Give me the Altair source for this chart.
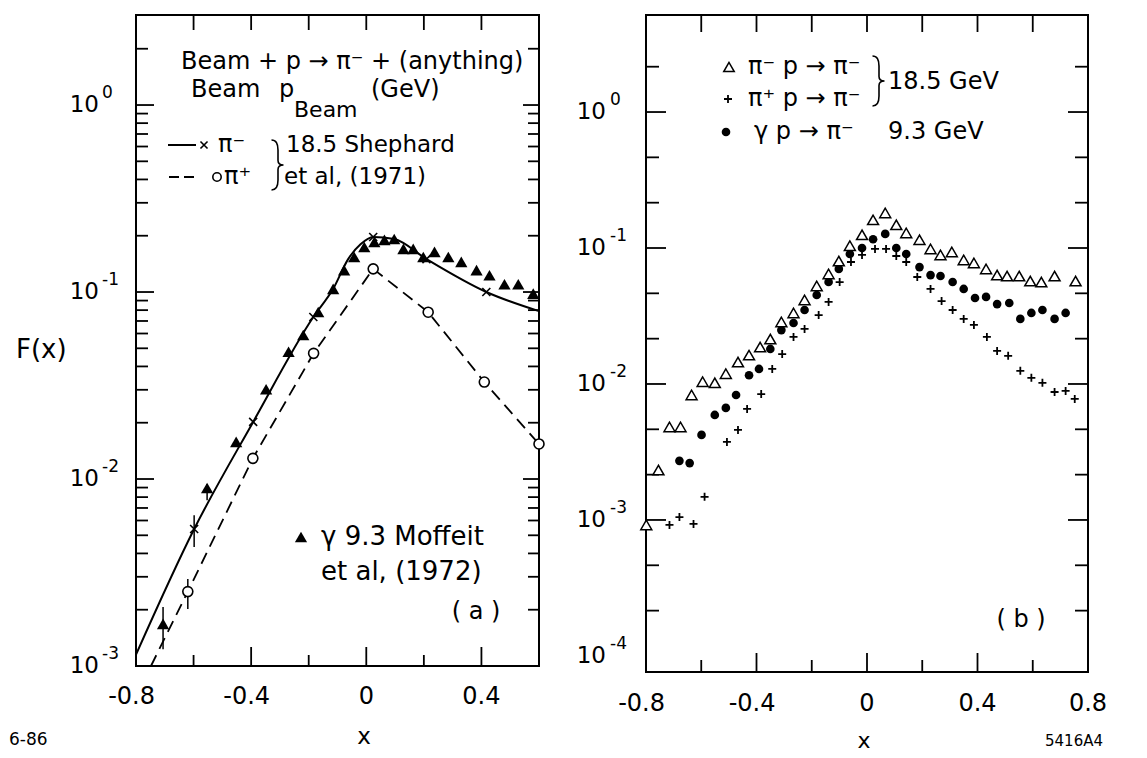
import altair as alt
import pandas as pd

FONT = "DejaVu Sans"
K = "black"

# ---------------- Panel (a) data ----------------
a_sol_x = [-0.80, -0.598, -0.393, -0.184, -0.115, -0.063, -0.02, 0.024, 0.097, 0.209, 0.417, 0.60]
a_sol_F = [1.15e-3, 5.4e-3, 0.0202, 0.0735, 0.104, 0.150, 0.180, 0.197, 0.192, 0.150, 0.100, 0.079]
a_dash_x = [-0.748, -0.62, -0.394, -0.183, 0.024, 0.215, 0.41, 0.60]
a_dash_F = [1.0e-3, 2.5e-3, 0.0129, 0.047, 0.133, 0.078, 0.033, 0.0154]
a_pim_x = [-0.598, -0.393, -0.184, 0.024, 0.209, 0.417]
a_pim_F = [5.4e-3, 0.0202, 0.0735, 0.197, 0.150, 0.100]
a_pip_x = [-0.62, -0.394, -0.183, 0.024, 0.215, 0.41, 0.60]
a_pip_F = [2.5e-3, 0.0129, 0.047, 0.133, 0.078, 0.033, 0.0154]
a_gam_x = [-0.706, -0.553, -0.452, -0.348, -0.270, -0.219, -0.167, -0.115, -0.077, -0.042,
           -0.007, 0.028, 0.063, 0.097, 0.129, 0.163, 0.198, 0.237, 0.285, 0.330,
           0.383, 0.428, 0.480, 0.528, 0.580]
a_gam_F = [1.68e-3, 8.95e-3, 0.0158, 0.0302, 0.0479, 0.0589, 0.0782, 0.104, 0.131, 0.154,
           0.174, 0.185, 0.190, 0.192, 0.170, 0.170, 0.154, 0.164, 0.154, 0.145,
           0.131, 0.123, 0.110, 0.110, 0.098]
a_err_x = [-0.706, -0.553, -0.598, -0.62]
a_err_lo = [1.23e-3, 7.7e-3, 4.33e-3, 2.02e-3]
a_err_hi = [2.07e-3, 9.4e-3, 6.4e-3, 2.92e-3]

# ---------------- Panel (b) data ----------------
b_tri_x = [-0.799, -0.755, -0.715, -0.675, -0.635, -0.595, -0.551, -0.511, -0.467, -0.427,
           -0.387, -0.350, -0.310, -0.266, -0.226, -0.182, -0.139, -0.102, -0.062, -0.018,
           0.022, 0.066, 0.106, 0.142, 0.190, 0.230, 0.266, 0.307, 0.350, 0.387,
           0.431, 0.471, 0.507, 0.551, 0.591, 0.631, 0.679, 0.755]
b_tri_F = [9.2e-4, 2.33e-3, 4.83e-3, 4.83e-3, 8.30e-3, 0.0104, 0.0102, 0.0119, 0.0145, 0.0163,
           0.0187, 0.0214, 0.0286, 0.0333, 0.0415, 0.0526, 0.0644, 0.0802, 0.104, 0.125,
           0.161, 0.181, 0.148, 0.129, 0.115, 0.0984, 0.0889, 0.0935, 0.0817, 0.0776,
           0.0702, 0.0632, 0.0622, 0.0622, 0.0571, 0.0562, 0.0622, 0.0571]
b_dot_x = [-0.679, -0.642, -0.599, -0.551, -0.511, -0.474, -0.427, -0.391, -0.350, -0.310,
           -0.266, -0.226, -0.182, -0.139, -0.102, -0.062, -0.018, 0.022, 0.066, 0.106,
           0.142, 0.190, 0.230, 0.266, 0.310, 0.350, 0.391, 0.431, 0.471, 0.515,
           0.555, 0.595, 0.635, 0.679, 0.719]
b_dot_F = [2.72e-3, 2.62e-3, 4.22e-3, 5.92e-3, 6.67e-3, 8.30e-3, 0.0116, 0.0129, 0.0181, 0.0249,
           0.0281, 0.0350, 0.0451, 0.0562, 0.0702, 0.0904, 0.100, 0.116, 0.127, 0.100,
           0.0904, 0.0724, 0.0632, 0.0622, 0.0562, 0.0500, 0.0429, 0.0437, 0.0387, 0.0394,
           0.0301, 0.0333, 0.0350, 0.0301, 0.0333]
b_plus_x = [-0.715, -0.679, -0.628, -0.588, -0.507, -0.467, -0.434, -0.383, -0.343, -0.307,
            -0.266, -0.226, -0.175, -0.139, -0.099, -0.058, -0.018, 0.029, 0.069, 0.106,
            0.142, 0.182, 0.230, 0.270, 0.310, 0.350, 0.387, 0.434, 0.471, 0.511,
            0.555, 0.595, 0.635, 0.679, 0.719, 0.752]
b_plus_F = [9.2e-4, 1.05e-3, 9.35e-4, 1.48e-3, 3.75e-3, 4.59e-3, 6.55e-3, 8.43e-3, 0.0129, 0.0166,
            0.0222, 0.0254, 0.0321, 0.0401, 0.0562, 0.0789, 0.0889, 0.0984, 0.0984, 0.0873,
            0.0789, 0.0612, 0.0500, 0.0407, 0.0350, 0.0301, 0.0272, 0.0222, 0.0175, 0.0161,
            0.0125, 0.0111, 0.0102, 8.73e-3, 8.89e-3, 7.76e-3]

# ---------------- tick values and labels ----------------
xlab_neg_v = [-0.8, -0.4]
xlab_neg_t = ["-0.8", "-0.4"]
a_xlab_pos_v = [0.0, 0.4]
a_xlab_pos_t = ["0", "0.4"]
b_xlab_pos_v = [0.0, 0.4, 0.8]
b_xlab_pos_t = ["0", "0.4", "0.8"]
a_ydec = [1e-3, 1e-2, 1e-1, 1.0]
a_yexp = ["-3", "-2", "-1", "0"]
b_ydec = [1e-4, 1e-3, 1e-2, 1e-1, 1.0]
b_yexp = ["-4", "-3", "-2", "-1", "0"]

x_major = [-0.4, 0.0, 0.4]
a_x_minor = [-0.6, -0.2, 0.2]
b_x_minor = [-0.6, -0.2, 0.2, 0.6]
a_x_top = [-0.6, -0.4, -0.2, 0.0, 0.2, 0.4]
b_x_top = [-0.6, -0.4, -0.2, 0.0, 0.2, 0.4, 0.6]
a_y_major = [0.01, 0.1, 1.0]
a_y_minor = [0.002, 0.003, 0.004, 0.005, 0.006, 0.007, 0.008, 0.009,
             0.02, 0.03, 0.04, 0.05, 0.06, 0.07, 0.08, 0.09,
             0.2, 0.3, 0.4, 0.5, 0.6, 0.7, 0.8, 0.9, 2.0]
b_y_major = [0.001, 0.01, 0.1, 1.0]
b_y_minor = [2.154e-4, 4.642e-4, 2.154e-3, 4.642e-3, 0.02154, 0.04642, 0.2154, 0.4642, 2.154]

# ---------------- scales / sizes ----------------
WA, HA = 403, 651
WB, HB = 442, 657
xa = alt.Scale(domain=[-0.8, 0.6], nice=False, zero=False)
ya = alt.Scale(type="log", domain=[1e-3, 3.03], nice=False)
xb = alt.Scale(domain=[-0.8, 0.8], nice=False, zero=False)
yb = alt.Scale(type="log", domain=[7.62e-5, 5.17], nice=False)

CROSS = "M-1,-1L1,1M-1,1L1,-1"
PLUS = "M-1,0L1,0M0,-1L0,1"
BRACE = "M-0.22,-1 Q0.04,-1 0.04,-0.6 L0.04,-0.18 Q0.04,0 0.26,0 Q0.04,0 0.04,0.18 L0.04,0.6 Q0.04,1 -0.22,1"
ONE = alt.Data(values=[{}])


def pts(x, F, xs, ys, **mk):
    return alt.Chart(pd.DataFrame({"x": x, "F": F})).mark_point(opacity=1, **mk).encode(
        x=alt.X("x:Q", scale=xs, axis=None), y=alt.Y("F:Q", scale=ys, axis=None))


def line(x, F, xs, ys, **mk):
    return alt.Chart(pd.DataFrame({"x": x, "F": F})).mark_line(color=K, **mk).encode(
        x=alt.X("x:Q", scale=xs, axis=None), y=alt.Y("F:Q", scale=ys, axis=None))


def xt(vals, xs, y0, y1):
    return alt.Chart(pd.DataFrame({"v": vals})).mark_rule(color=K, strokeWidth=1.8).encode(
        x=alt.X("v:Q", scale=xs, axis=None), y=alt.value(y0), y2=alt.value(y1))


def yt(vals, ys, x0, x1):
    return alt.Chart(pd.DataFrame({"v": vals})).mark_rule(color=K, strokeWidth=1.8).encode(
        y=alt.Y("v:Q", scale=ys, axis=None), x=alt.value(x0), x2=alt.value(x1))


def xlab(vals, labs, xs, y, align, dx):
    return alt.Chart(pd.DataFrame({"v": vals, "t": labs})).mark_text(
        align=align, baseline="middle", dx=dx, font=FONT, fontSize=24, color=K).encode(
        x=alt.X("v:Q", scale=xs, axis=None), y=alt.value(y), text="t:N")


def ylab(vals, exps, ys, x10, xexp):
    d = pd.DataFrame({"v": vals, "e": exps})
    base = alt.Chart(d).mark_text(text="10", align="right", baseline="middle",
                                  font=FONT, fontSize=23, color=K).encode(
        y=alt.Y("v:Q", scale=ys, axis=None), x=alt.value(x10))
    sup = alt.Chart(d).mark_text(align="left", baseline="middle", dy=-12,
                                 font=FONT, fontSize=17, color=K).encode(
        y=alt.Y("v:Q", scale=ys, axis=None), x=alt.value(xexp), text="e:N")
    return [base, sup]


def T(text, x, y, size=24, align="left"):
    return alt.Chart(ONE).mark_text(text=text, align=align, baseline="middle",
                                    font=FONT, fontSize=size, color=K).encode(
        x=alt.value(x), y=alt.value(y))


def M(x, y, **mk):
    return alt.Chart(ONE).mark_point(opacity=1, **mk).encode(x=alt.value(x), y=alt.value(y))


def R(x0, x1, y, **mk):
    return alt.Chart(ONE).mark_rule(color=K, **mk).encode(
        x=alt.value(x0), x2=alt.value(x1), y=alt.value(y))


# ---------------- Panel (a) ----------------
err = alt.Chart(pd.DataFrame({"x": a_err_x, "lo": a_err_lo, "hi": a_err_hi})).mark_rule(
    color=K, strokeWidth=1.5).encode(
    x=alt.X("x:Q", scale=xa, axis=None), y=alt.Y("lo:Q", scale=ya, axis=None), y2="hi:Q")

layers_a = [
    xt(x_major, xa, HA, HA - 19), xt(a_x_minor, xa, HA, HA - 11), xt(a_x_top, xa, 0, 15),
    yt(a_y_major, ya, 0, 18), yt(a_y_minor, ya, 0, 12),
    yt(a_y_major, ya, WA, WA - 16), yt(a_y_minor, ya, WA, WA - 11),
    line(a_sol_x, a_sol_F, xa, ya, strokeWidth=2, interpolate="monotone"),
    line(a_dash_x, a_dash_F, xa, ya, strokeWidth=1.8, strokeDash=[12, 7]),
    err,
    pts(a_gam_x, a_gam_F, xa, ya, shape="triangle-up", filled=True, color=K, size=150),
    pts(a_pip_x, a_pip_F, xa, ya, shape="circle", filled=True, fill="white", stroke=K,
        strokeWidth=1.6, size=100),
    pts(a_pim_x, a_pim_F, xa, ya, shape=CROSS, filled=False, color=K, strokeWidth=1.6, size=64),
    xlab(xlab_neg_v, xlab_neg_t, xa, HA + 31, "right", 19),
    xlab(a_xlab_pos_v, a_xlab_pos_t, xa, HA + 31, "center", 0),
    *ylab(a_ydec, a_yexp, ya, -37, -34),
    # legend / annotations
    T("Beam + p → π⁻ + (anything)", 45, 47),
    T("Beam", 55, 75), T("p", 143, 75), T("Beam", 158, 95, 22), T("(GeV)", 235, 75),
    R(32, 60, 130, strokeWidth=2),
    M(68, 130, shape=CROSS, filled=False, color=K, strokeWidth=1.6, size=50),
    T("π⁻", 82, 130),
    M(141, 150, shape=BRACE, filled=False, color=K, strokeWidth=1.6, size=2500),
    T("18.5 Shephard", 150, 130, 23),
    R(33, 58, 162, strokeWidth=1.8, strokeDash=[10, 5]),
    M(81, 162, shape="circle", filled=False, color=K, strokeWidth=1.6, size=70),
    T("π⁺", 88, 162),
    T("et al, (1971)", 148, 162, 23),
    M(165, 522, shape="triangle-up", filled=True, color=K, size=150),
    T("γ 9.3 Moffeit", 185, 522, 26),
    T("et al, (1972)", 185, 557, 26),
    T("( a )", 340, 597, 24, "center"),
    T("F(x)", -120, 335, 26),
    T("6-86", -127, 725, 17),
    T("x", 228, 722, 23, "center"),
]
left = alt.layer(*layers_a).properties(width=WA, height=HA)

# ---------------- Panel (b) ----------------
layers_b = [
    xt(x_major, xb, HB, HB - 19), xt(b_x_minor, xb, HB, HB - 12), xt(b_x_top, xb, 0, 17),
    yt(b_y_major, yb, 0, 20), yt(b_y_minor, yb, 0, 13),
    yt(b_y_major, yb, WB, WB - 20), yt(b_y_minor, yb, WB, WB - 13),
    pts(b_plus_x, b_plus_F, xb, yb, shape=PLUS, filled=False, color=K, strokeWidth=1.8, size=64),
    pts(b_dot_x, b_dot_F, xb, yb, shape="circle", filled=True, color=K, size=75),
    pts(b_tri_x, b_tri_F, xb, yb, shape="triangle-up", filled=True, fill="white", stroke=K,
        strokeWidth=1.5, size=120),
    xlab(xlab_neg_v, xlab_neg_t, xb, HB + 32, "right", 19),
    xlab(b_xlab_pos_v, b_xlab_pos_t, xb, HB + 32, "center", 0),
    *ylab(b_ydec, b_yexp, yb, -40, -36),
    M(83, 52, shape="triangle-up", filled=False, color=K, strokeWidth=1.5, size=110),
    T("π⁻ p → π⁻", 102, 52),
    M(82, 84, shape=PLUS, filled=False, color=K, strokeWidth=1.8, size=64),
    T("π⁺ p → π⁻", 102, 84),
    M(232, 66, shape=BRACE, filled=False, color=K, strokeWidth=1.6, size=2500),
    T("18.5 GeV", 242, 67),
    M(80, 117, shape="circle", filled=True, color=K, size=75),
    T("γ  p → π⁻", 108, 117),
    T("9.3 GeV", 242, 117),
    T("( b )", 375, 605, 24, "center"),
    T("x", 218, 726, 22, "center"),
    T("5416A4", 428, 726, 15, "center"),
]
right = alt.layer(*layers_b).properties(width=WB, height=HB)

chart = alt.hconcat(left, right, spacing=107, bounds="flush").properties(
    padding={"left": 0, "top": 5, "right": 0, "bottom": 0}
).configure_view(stroke=K, strokeWidth=2)

chart.save("out.html", embed_options={"renderer": "svg", "actions": False})
